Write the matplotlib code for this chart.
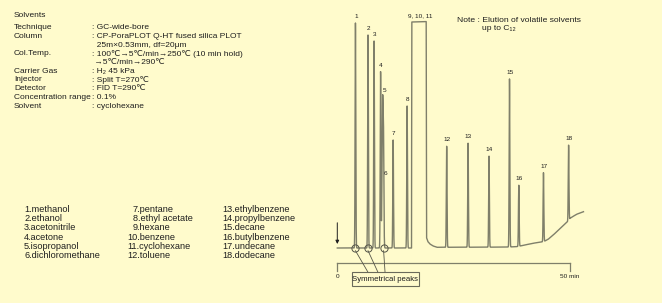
import numpy as np
import matplotlib.pyplot as plt
from matplotlib.patches import Rectangle

W, H = 662, 303
BG = '#fffbcc'
INK = '#1e1e1e'
TRACE = '#7f7f6a'
FONT = ['Liberation Sans', 'DejaVu Sans']

# peaks: retention time (min), height above baseline
peak_ids = ['1', '2', '3', '4', '5', '6', '7', '8', '12', '13', '14', '15', '16', '17', '18']
peak_rt = [3.9, 6.6, 7.9, 9.3, 9.75, 9.95, 12.0, 15.0, 23.5, 28.1, 32.6, 37.0, 39.0, 44.3, 49.7]
peak_h = [225, 213, 207, 176, 151, 68, 108, 142, 101, 104, 91, 168, 61, 69, 76]

# 9, 10, 11 co-elute off scale (flat top) with a tail
group_t = [15.95, 16.0, 19.1, 19.17, 19.45, 19.9, 20.55, 21.4]
group_y = [0, 226, 226, 10, 6, 3.5, 1.5, 0]

# baseline drift
base_t = [0, 16, 21.4, 30, 36, 38.5, 39.6, 42.0, 44.3, 45.3, 46.4, 47.9, 49.3, 49.75, 50.0, 51.4, 52.9]
base_y = [0, 0, 0.7, 0.8, 0.9, 1.3, 2.3, 4.7, 6.3, 8.7, 13, 19.7, 25.7, 27, 29.7, 33.7, 36.3]

symmetric = ['1', '2', '6']

compounds = ['methanol', 'ethanol', 'acetonitrile', 'acetone', 'isopropanol', 'dichloromethane',
             'pentane', 'ethyl acetate', 'hexane', 'benzene', 'cyclohexane', 'toluene',
             'ethylbenzene', 'propylbenzene', 'decane', 'butylbenzene', 'undecane', 'dodecane']

cond_keys = ['Technique', 'Column', '', 'Col.Temp.', '', 'Carrier Gas', 'Injector',
             'Detector', 'Concentration range', 'Solvent']
cond_vals = [': GC-wide-bore', ': CP-PoraPLOT Q-HT fused silica PLOT', '  25m×0.53mm, df=20μm',
             ': 100℃→5℃/min→250℃ (10 min hold)', ' →5℃/min→290℃', ': H₂ 45 kPa',
             ': Split T=270℃', ': FID T=290℃', ': 0.1%', ': cyclohexane']

time_ticks = [0, 50]

# ---- figure: one axes covering everything, minutes on x, signal on y
fig = plt.figure(figsize=(W / 100, H / 100), dpi=100, facecolor=BG)
ax = fig.add_axes([0, 0, 1, 1])
ax.set_facecolor(BG)
x0, ppm = 337.3, 4.654   # pixel of t=0, pixels per minute
ybase = 248
ax.set_xlim(-x0 / ppm, (W - x0) / ppm)
ax.set_ylim(ybase - H, ybase)
ax.axis('off')

def ftext(x, y, s, **kw):
    kw.setdefault('fontsize', 6.0)
    kw.setdefault('family', FONT)
    kw.setdefault('color', INK)
    fig.text(x / W, 1 - y / H, s, va='center_baseline', **kw)

# trace
t = np.arange(0, base_t[-1], 0.004)
sig = np.interp(t, base_t, base_y) + np.interp(t, group_t, group_y, left=0, right=0)
for rt, h in zip(peak_rt, peak_h):
    s = 0.13 if h == 151 else 0.075
    sig += h * np.exp(-0.5 * ((t - rt) / s) ** 2)
ax.plot(t, sig, color=TRACE, lw=1.0)

# peak labels
lab_dx = {'5': 0.5, '6': 0.3}
lab_kw = dict(ha='center', va='center_baseline', fontsize=4.6, family=FONT, color=INK)
for pid, rt, h in zip(peak_ids, peak_rt, peak_h):
    b = np.interp(rt, base_t, base_y)
    ax.text(rt + lab_dx.get(pid, 0.1), b + h + 7, pid, **lab_kw)
ax.text((group_t[1] + group_t[2]) / 2 + 0.2, max(group_y) + 7, '9, 10, 11', **lab_kw)

# injection arrow
ax.annotate('', xy=(0, 1.2), xytext=(0, 28),
            arrowprops=dict(arrowstyle='-|>', color=INK, lw=0.7, mutation_scale=5))

# time axis
ax.plot(time_ticks, [-15.3, -15.3], color=TRACE, lw=0.9)
for tk in time_ticks:
    ax.plot([tk, tk], [-15.3, -23], color=TRACE, lw=0.9)
ax.text(time_ticks[0], -28.5, '0', **lab_kw)
ax.text(time_ticks[1], -28.5, '50 min', **lab_kw)

# symmetrical peaks callout
box_l, box_r, box_b, box_t = 3.13, 17.55, -37.7, -23.7
ax.add_patch(Rectangle((box_l, box_b), box_r - box_l, box_t - box_b, fc=BG, ec='#6a6a5a', lw=0.8))
ax.text((box_l + box_r) / 2, (box_b + box_t) / 2, 'Symmetrical peaks', ha='center',
        va='center_baseline', fontsize=5.6, family=FONT, color=INK)
ends = [6.53, 8.68, 10.25]
for pid, xe in zip(symmetric, ends):
    rt = peak_rt[peak_ids.index(pid)]
    ax.plot(rt, 0, 'o', ms=5.2, mfc='none', mec='#555548', mew=0.7)
    ax.plot([rt, xe], [-2.7, box_t], color='#555548', lw=0.6)

# note
ftext(456.7, 19, 'Note : Elution of volatile solvents', fontsize=6.1)
ftext(481.7, 27.5, 'up to C₁₂', fontsize=6.1)

# conditions block
ftext(14, 14.3, 'Solvents')
for i, (k, v) in enumerate(zip(cond_keys, cond_vals)):
    y = 26.7 + 8.7 * i
    if k:
        ftext(14, y, k)
    ftext(92.3, y, v)

# compound list
col_x = [24, 132.7, 222.7]
for i, name in enumerate(compounds):
    col, row = divmod(i, 6)
    x = col_x[col] - (5.5 if col == 1 and row >= 3 else 0)
    ftext(x, 208.3 + 9.3 * row, f'{i + 1}.{name}', fontsize=6.6)

fig.savefig('out.png', dpi=100, facecolor=BG)
